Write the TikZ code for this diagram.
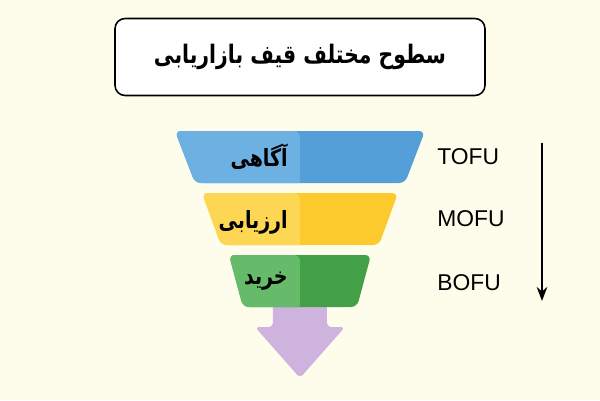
\documentclass[tikz,border=0pt]{standalone}
\usepackage{fontspec}
\setmainfont{Liberation Sans}
\newfontfamily\farsi[Script=Arabic, FakeStretch=0.8]{DejaVu Sans}
\TeXXeTstate=1
\usepackage{tikz}
\usetikzlibrary{arrows.meta}

\definecolor{cream}{HTML}{FEFDEC}
\definecolor{blueL}{HTML}{6DB1E2}
\definecolor{blueD}{HTML}{559FD8}
\definecolor{yellowL}{HTML}{FDD653}
\definecolor{yellowD}{HTML}{FDCA2E}
\definecolor{greenL}{HTML}{66BB6A}
\definecolor{greenD}{HTML}{43A047}
\definecolor{lilac}{HTML}{CEB3DF}

\begin{document}
\begin{tikzpicture}[x=0.02cm, y=-0.02cm,
        titlebox/.style={rectangle, draw, line width=0.9pt, fill=white, rounded corners=0.2cm,
            minimum width=7.4cm, minimum height=1.54cm, font=\farsi\bfseries\fontsize{14.5}{17}\selectfont},
        lbl/.style={anchor=east, inner sep=0pt, font=\farsi\bfseries\fontsize{13.5}{16}\selectfont},
        stage/.style={anchor=west, inner sep=0pt, font=\fontsize{13}{15}\selectfont},
        layer/.style={rounded corners=0.12cm},
        flow/.style={line width=1.2pt, -{Stealth[length=8pt, width=6pt]}}
    ]
        \fill[cream] (0,0) rectangle (600,400);
        \useasboundingbox (0,0) rectangle (600,400);

        % title
        \node[titlebox] (title) at (300,57) {\beginR سطوح مختلف قیف بازاریابی\endR};

        % arrow out of the funnel
        \fill[lilac, rounded corners=0.08cm] (273,300) -- (273,327) -- (255,327) -- (300,378)
            -- (345,327) -- (327,327) -- (327,300) -- cycle;

        % funnel layers
        \fill[blueD, layer, path picture={\fill[blueL] (path picture bounding box.north west) rectangle (300,190);}]
            (175,131) -- (425,131) -- (405,183) -- (195,183) -- cycle;
        \fill[yellowD, layer, path picture={\fill[yellowL] (path picture bounding box.north west) rectangle (300,250);}]
            (202,193) -- (398,193) -- (379,245) -- (221,245) -- cycle;
        \fill[greenD, layer, path picture={\fill[greenL] (path picture bounding box.north west) rectangle (300,310);}]
            (229,255) -- (371,255) -- (357,307) -- (243,307) -- cycle;

        \node[lbl] (aware) at (288,157) {\beginR آگاهی\endR};
        \node[lbl] (eval) at (288,222) {\beginR ارزیابی\endR};
        \node[lbl] (buy) at (288,281) {\beginR خرید\endR};

        % stages
        \node[stage] (tofu) at (437,157) {TOFU};
        \node[stage] (mofu) at (437,219) {MOFU};
        \node[stage] (bofu) at (437,283) {BOFU};

        \coordinate (top) at (542,143);
        \coordinate (bottom) at (542,301);
        \draw[flow] (top) -- (bottom);
    \end{tikzpicture}
\end{document}
